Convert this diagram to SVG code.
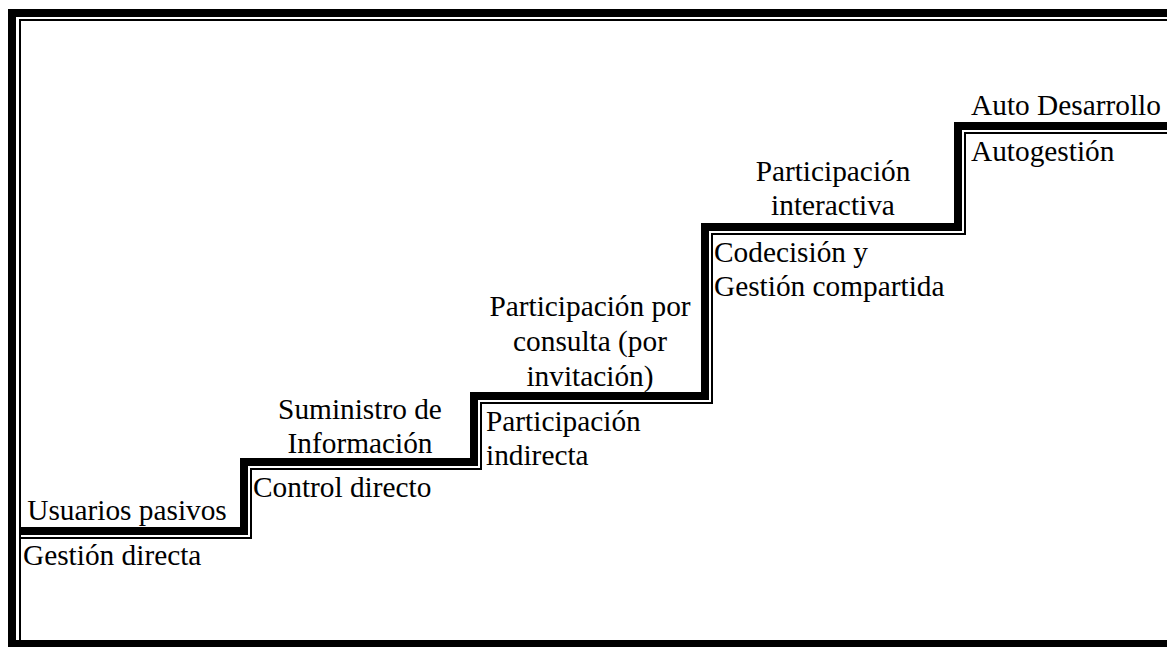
<svg xmlns="http://www.w3.org/2000/svg" width="1167" height="647" viewBox="0 0 1167 647">
<style>
text{font-family:"Liberation Serif","Times New Roman",serif;font-size:29.33px;fill:#000}
.c{text-anchor:middle}
.thick{fill:none;stroke:#000;stroke-width:8;stroke-linejoin:miter}
.thin{fill:none;stroke:#000;stroke-width:2;stroke-linejoin:miter}
</style>
<rect width="1167" height="647" fill="#fff"/>
<g id="frame">
<rect x="8" y="9" width="8" height="638" fill="#000"/>
<rect x="8" y="9" width="1159" height="8" fill="#000"/>
<rect x="19" y="19" width="2" height="621" fill="#000"/>
<rect x="19" y="19" width="1148" height="2" fill="#000"/>
<rect x="8" y="640" width="1159" height="7" fill="#000"/>
</g>
<g id="connectors">
<path class="thick" d="M19,531 H244 V462 H474 V396 H705 V227 H958 V126 H1167"/>
<path class="thin" d="M21,538 H251 V469 H481 V403 H712 V234 H965 V133 H1167"/>
</g>
<g id="step1-top"><text class="c" x="127" y="520">Usuarios pasivos</text></g>
<g id="step1-bottom"><text x="23" y="565">Gestión directa</text></g>
<g id="step2-top"><text class="c" x="360" y="419">Suministro de</text><text class="c" x="360" y="453">Información</text></g>
<g id="step2-bottom"><text x="253" y="497">Control directo</text></g>
<g id="step3-top"><text class="c" x="590" y="316">Participación por</text><text class="c" x="590" y="351">consulta (por</text><text class="c" x="590" y="386">invitación)</text></g>
<g id="step3-bottom"><text x="486" y="431">Participación</text><text x="486" y="465">indirecta</text></g>
<g id="step4-top"><text class="c" x="833" y="181">Participación</text><text class="c" x="833" y="215">interactiva</text></g>
<g id="step4-bottom"><text x="714" y="262">Codecisión y</text><text x="714" y="296">Gestión compartida</text></g>
<g id="step5-top"><text class="c" x="1066" y="115">Auto Desarrollo</text></g>
<g id="step5-bottom"><text x="971" y="161">Autogestión</text></g>
</svg>
